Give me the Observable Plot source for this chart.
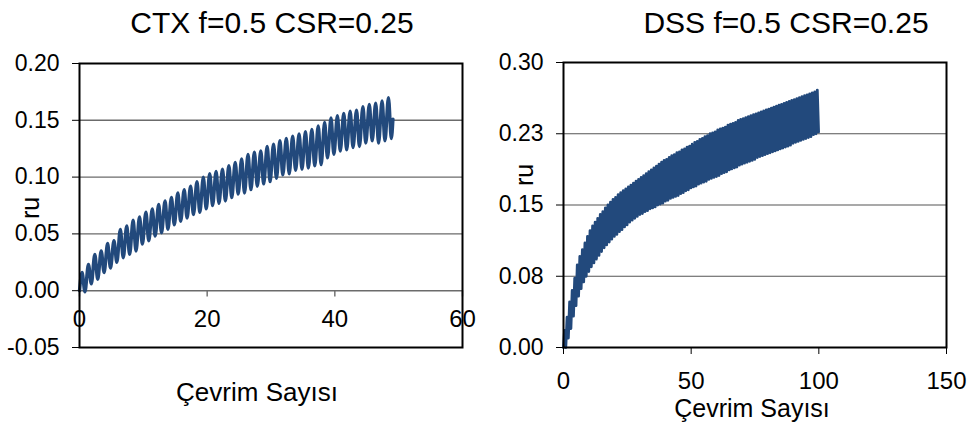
<!DOCTYPE html>
<html><head><meta charset="utf-8">
<script src="https://cdn.jsdelivr.net/npm/d3@7"></script>
<script src="https://cdn.jsdelivr.net/npm/@observablehq/plot@0.6"></script>
<style>
body{margin:0;background:#fff;}
#wrap{position:relative;width:976px;height:432px;font-family:"Liberation Sans",Arial,sans-serif;color:#000;overflow:hidden;}
.abs{position:absolute;white-space:nowrap;line-height:1;transform:translate(-50%,-50%);}
.rot{transform:translate(-50%,-50%) rotate(-90deg);}
svg{position:absolute;top:0;display:block;}
</style></head><body><div id="wrap"></div>
<script>
// ---- texts ----
const ctxTitle = "CTX f=0.5 CSR=0.25";
const dssTitle = "DSS f=0.5 CSR=0.25";
const xTitle = "Çevrim Sayısı";
const yTitle = "ru";

// ---- CTX panel ----
const ctxXTicks = [0, 20, 40, 60];
const ctxYTicks = [-0.05, 0.00, 0.05, 0.10, 0.15, 0.20];
const ctxYTickLabels = ["-0.05", "0.00", "0.05", "0.10", "0.15", "0.20"];
const ctxGrid = [0.00, 0.05, 0.10, 0.15];
const ctxPeakPhase = 0.4, ctxTroughPhase = 0.85;
const ctxStart = [0, 0];
const ctxEnd = [49.1, 0.151];
const ctxPeaks = [0.016,0.023,0.032,0.035,0.0415,0.044,0.054,0.057,0.062,0.065,
  0.069,0.072,0.076,0.079,0.082,0.086,0.089,0.092,0.096,0.100,
  0.103,0.105,0.107,0.110,0.113,0.116,0.120,0.122,0.123,0.127,
  0.129,0.132,0.134,0.136,0.138,0.140,0.142,0.145,0.148,0.152,
  0.154,0.156,0.158,0.159,0.162,0.164,0.165,0.167,0.170];
const ctxTroughs = [-0.001,0.006,0.010,0.016,0.020,0.025,0.029,0.032,0.035,0.041,
  0.044,0.048,0.051,0.054,0.058,0.061,0.064,0.067,0.069,0.072,
  0.075,0.077,0.079,0.082,0.085,0.086,0.089,0.092,0.094,0.096,
  0.099,0.102,0.103,0.106,0.107,0.108,0.110,0.111,0.117,0.120,
  0.123,0.124,0.126,0.127,0.130,0.132,0.130,0.132,0.134];

// ---- DSS panel ----
const dssXTicks = [0, 50, 100, 150];
const dssYTicks = [0, 0.075, 0.15, 0.225, 0.30];
const dssYTickLabels = ["0.00", "0.08", "0.15", "0.23", "0.30"];
const dssGrid = [0.075, 0.15, 0.225];
const dssPeakPhase = 0.4, dssTroughPhase = 0.9;
const dssStart = [0, 0];
const dssPeaks = [0.018,0.032,0.048,0.060,0.073,0.087,0.096,0.103,0.110,0.117,
  0.123,0.128,0.132,0.136,0.140,0.143,0.147,0.150,0.153,0.156,
  0.158,0.161,0.163,0.165,0.167,0.169,0.171,0.173,0.175,0.177,
  0.179,0.181,0.183,0.185,0.187,0.189,0.191,0.193,0.195,0.197,
  0.198,0.200,0.202,0.203,0.205,0.206,0.208,0.209,0.211,0.212,
  0.214,0.216,0.217,0.219,0.220,0.222,0.223,0.225,0.226,0.227,
  0.229,0.230,0.231,0.232,0.234,0.235,0.236,0.237,0.239,0.240,
  0.241,0.242,0.243,0.244,0.245,0.246,0.247,0.248,0.249,0.250,
  0.251,0.252,0.253,0.254,0.255,0.256,0.257,0.258,0.259,0.260,
  0.261,0.262,0.263,0.264,0.265,0.266,0.267,0.268,0.269,0.271];
const dssTroughs = [0.000,0.010,0.020,0.033,0.044,0.054,0.062,0.069,0.075,0.080,
  0.085,0.089,0.093,0.097,0.101,0.105,0.108,0.111,0.114,0.117,
  0.119,0.122,0.124,0.127,0.129,0.132,0.134,0.136,0.138,0.140,
  0.141,0.143,0.144,0.146,0.147,0.148,0.150,0.151,0.152,0.154,
  0.155,0.157,0.158,0.159,0.160,0.162,0.163,0.165,0.166,0.168,
  0.169,0.170,0.172,0.173,0.174,0.175,0.177,0.178,0.179,0.180,
  0.181,0.183,0.184,0.185,0.187,0.188,0.189,0.190,0.192,0.193,
  0.194,0.195,0.196,0.197,0.198,0.200,0.201,0.202,0.203,0.204,
  0.205,0.206,0.207,0.208,0.209,0.210,0.211,0.212,0.213,0.215,
  0.216,0.217,0.218,0.219,0.220,0.221,0.222,0.224,0.225,0.227];

function buildLine(start, peaks, troughs, pPhase, tPhase, end) {
  const rows = [{c: start[0], ru: start[1]}];
  peaks.forEach((p, k) => {
    rows.push({c: k + pPhase, ru: p});
    rows.push({c: k + tPhase, ru: troughs[k]});
  });
  if (end) rows.push({c: end[0], ru: end[1]});
  return rows;
}
const ctxLine = buildLine(ctxStart, ctxPeaks, ctxTroughs, ctxPeakPhase, ctxTroughPhase, ctxEnd);
const dssLine = buildLine(dssStart, dssPeaks, dssTroughs, dssPeakPhase, dssTroughPhase, null);

const lineColor = "#22497c";
const font = "'Liberation Sans', Arial, sans-serif";

const ctx = Plot.plot({
  width: 480, height: 432,
  marginLeft: 79, marginRight: 18, marginTop: 63, marginBottom: 85,
  style: {fontFamily: font, fontSize: "23px", color: "#000", background: "transparent", overflow: "visible"},
  x: {domain: [0, 60]},
  y: {domain: [-0.05, 0.20]},
  marks: [
    Plot.ruleY(ctxGrid, {y: d => d, stroke: "#6b6b6b", strokeWidth: 1.4}),
    Plot.ruleX(ctxXTicks, {x: d => d, y1: 0, y2: -0.0055, stroke: "#6b6b6b", strokeWidth: 1.4}),
    Plot.text(ctxXTicks, {x: d => d, y: 0, dy: 29, text: d => String(d), fontSize: 24, fill: "#000"}),
    Plot.line(ctxLine, {x: "c", y: "ru", stroke: lineColor, strokeWidth: 3.4, curve: "monotone-x"}),
    Plot.frame({stroke: "#000", strokeWidth: 2}),
    Plot.axisY({ticks: ctxYTicks, tickFormat: d => ctxYTickLabels[ctxYTicks.indexOf(d)], tickSize: 7, tickPadding: 13, label: null, fontSize: 23}),
    Plot.axisX({ticks: [], label: null})
  ]
});

const dss = Plot.plot({
  width: 496, height: 432,
  marginLeft: 83, marginRight: 30, marginTop: 62, marginBottom: 85,
  style: {fontFamily: font, fontSize: "23px", color: "#000", background: "transparent", overflow: "visible"},
  x: {domain: [0, 150]},
  y: {domain: [0, 0.30]},
  marks: [
    Plot.ruleY(dssGrid, {y: d => d, stroke: "#555", strokeWidth: 1.2}),
    Plot.line(dssLine, {x: "c", y: "ru", stroke: lineColor, strokeWidth: 2.8}),
    Plot.frame({stroke: "#000", strokeWidth: 2}),
    Plot.axisY({ticks: dssYTicks, tickFormat: d => dssYTickLabels[dssYTicks.indexOf(d)], tickSize: 7, tickPadding: 13, label: null, fontSize: 23}),
    Plot.axisX({ticks: dssXTicks, tickFormat: d => String(d), tickSize: 7, tickPadding: 17, label: null, fontSize: 24})
  ]
});

const wrap = document.getElementById("wrap");
ctx.style.left = "0px";
dss.style.left = "480px";
wrap.appendChild(ctx);
wrap.appendChild(dss);

function addText(txt, x, y, size, rotate) {
  const d = document.createElement("div");
  d.className = "abs" + (rotate ? " rot" : "");
  d.style.left = x + "px";
  d.style.top = y + "px";
  d.style.fontSize = size + "px";
  d.textContent = txt;
  wrap.appendChild(d);
}
addText(ctxTitle, 272, 23, 30);
addText(dssTitle, 786, 23, 30);
addText(xTitle, 257, 392, 26);
addText(xTitle, 752, 408, 25);
addText(yTitle, 30, 208, 25, true);
addText(yTitle, 524, 175, 25, true);
</script>
</body></html>
